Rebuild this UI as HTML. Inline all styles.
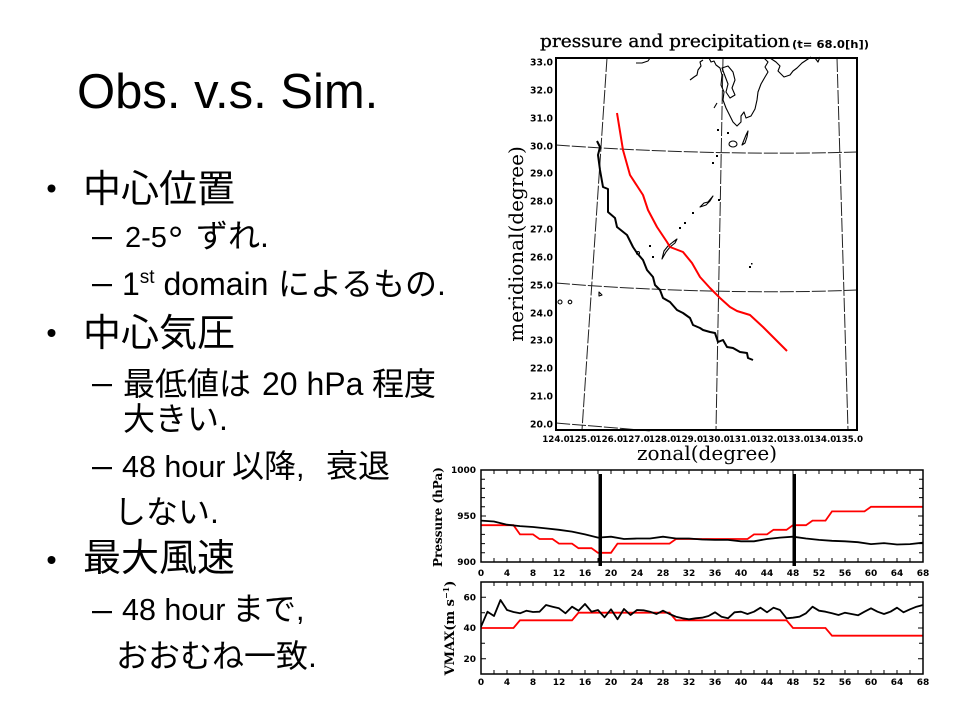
<!DOCTYPE html>
<html>
<head>
<meta charset="utf-8">
<style>
html,body{margin:0;padding:0;background:#fff;}
svg{display:block;}
.t{font-family:"Liberation Sans","Noto Sans CJK JP",sans-serif;fill:#000;}
.j{font-family:"Noto Sans CJK JP","Liberation Sans",sans-serif;}
.tk{font-family:"DejaVu Sans",sans-serif;font-weight:bold;fill:#000;}
.sf{font-family:"DejaVu Serif",serif;fill:#000;}
</style>
</head>
<body>
<svg width="960" height="720" viewBox="0 0 960 720" xmlns="http://www.w3.org/2000/svg">
<rect width="960" height="720" fill="#fff"/>

<!-- Slide title -->
<text class="t" x="77" y="108" font-size="49">Obs. v.s. Sim.</text>

<!-- bullets -->
<circle cx="51.5" cy="188.5" r="4" fill="#000"/>
<circle cx="51.5" cy="333" r="4" fill="#000"/>
<circle cx="51.5" cy="560" r="4" fill="#000"/>
<!-- dashes -->
<rect x="92" y="237" width="20" height="2.2" fill="#000"/>
<rect x="92" y="284" width="20" height="2.2" fill="#000"/>
<rect x="92" y="384" width="20" height="2.2" fill="#000"/>
<rect x="92" y="467" width="20" height="2.2" fill="#000"/>
<rect x="92" y="611" width="20" height="2.2" fill="#000"/>

<text class="t" x="83" y="202" font-size="38"><tspan class="j">中心位置</tspan></text>
<text class="t" x="125" y="247" font-size="29">2-5<tspan x="168" font-size="38" dy="6">°</tspan><tspan class="j" x="196" dy="-6" font-size="32">ずれ</tspan><tspan font-size="32">.</tspan></text>
<text class="t" x="122" y="295" font-size="32">1<tspan font-size="19" dy="-12">st</tspan><tspan dy="12"> domain</tspan><tspan class="j" x="278">によるもの</tspan>.</text>
<text class="t" x="83" y="346" font-size="38"><tspan class="j">中心気圧</tspan></text>
<text class="t" x="123" y="395" font-size="32"><tspan class="j">最低値は</tspan><tspan x="262">20 hPa</tspan><tspan class="j" x="372">程度</tspan></text>
<text class="t" x="123" y="430" font-size="32"><tspan class="j">大きい</tspan>.</text>
<text class="t" x="122" y="477" font-size="30.5">48 hour<tspan class="j" x="232" font-size="32">以降</tspan>,<tspan class="j" x="326" font-size="32">衰退</tspan></text>
<text class="t" x="114" y="523" font-size="32"><tspan class="j">しない</tspan>.</text>
<text class="t" x="83" y="571" font-size="38"><tspan class="j">最大風速</tspan></text>
<text class="t" x="122" y="620" font-size="30.5">48 hour<tspan class="j" x="232" font-size="32">まで</tspan>,</text>
<text class="t" x="116" y="667" font-size="32"><tspan class="j">おおむね一致</tspan>.</text>

<!-- ================= MAP ================= -->
<text class="sf" x="540" y="47" font-size="18" stroke="#000" stroke-width="0.35" textLength="250" lengthAdjust="spacingAndGlyphs">pressure and precipitation</text>
<text class="tk" x="792" y="48" font-size="10.5" textLength="77" lengthAdjust="spacingAndGlyphs">(t= 68.0[h])</text>

<!-- grid lines -->
<g fill="none" stroke="#222" stroke-width="1" stroke-dasharray="14,2">
  <path d="M607 58 L582 430"/>
  <path d="M723 58 L716 430"/>
  <path d="M837 58 L848 430"/>
  <path d="M556 145 C650 152 760 155 857 152"/>
  <path d="M556 283 C650 291 770 294 857 290"/>
  <path d="M556 423 C590 426 620 428 650 431"/>
</g>

<!-- coastlines / islands -->
<g fill="none" stroke="#000" stroke-width="1.1" stroke-linejoin="round">
  <path d="M709 58 L711 62 L714 61 L716 65 L720 68 L722 75 L721 85 L724 92 L723 100 L726 108 L730 116 L733 122 L737 126 L741 122 L741 116 L744 112 L746 118 L751 116 L755 109 L757 100 L758 92 L761 84 L765 77 L768 72 L765 67 L768 62 L764 58"/>
  <path d="M722 68 L728 66 L733 72 L735 80 L732 88 L735 95 L730 98 L726 92 L728 84 L725 76 Z"/>
  <path d="M770 58 L776 62 L780 66 L778 71 L784 77 L790 75 L793 71 L797 68 L802 63 L808 59 L811 57"/>
  <path d="M815 58 L818 62 L820 57"/>
  <path d="M636 63 L642 63 L648 61 L650 58"/>
  <path d="M690 80 L694 77 L697 75 L698 70 L701 66 L700 62 L703 60"/>
  <path d="M714 108 L717 103"/>
  <path d="M742 145 L744 140 L746 135 L748 131 L747 137 L745 143 Z"/>
  <ellipse cx="733" cy="144" rx="4" ry="3"/>
  <path d="M700 207 L704 203 L708 202 L713 196 L710 201 L706 205 Z"/>
  <path d="M662 259 L666 252 L670 247 L675 243 L677 239 L673 242 L668 246 L664 251 Z"/>
  <circle cx="638" cy="253" r="1.5"/>
  <circle cx="560" cy="302" r="2"/>
  <circle cx="570" cy="302" r="1.8"/>
  <path d="M599 292 L602 295 L599 296 Z"/>
</g>
<g fill="#000">
  <rect x="717" y="129" width="2" height="2"/>
  <rect x="727" y="132" width="2" height="2"/>
  <rect x="716" y="155" width="2" height="2"/>
  <rect x="712" y="162" width="2" height="2"/>
  <rect x="718" y="199" width="2" height="2"/>
  <rect x="692" y="212" width="2" height="2"/>
  <rect x="684" y="222" width="2" height="2"/>
  <rect x="679" y="227" width="2" height="2"/>
  <rect x="649" y="245" width="2" height="2"/>
  <rect x="652" y="256" width="2" height="2"/>
  <rect x="749" y="266" width="2" height="2"/>
  <rect x="751" y="263" width="1.5" height="1.5"/>
</g>

<!-- obs (black) track -->
<polyline fill="none" stroke="#000" stroke-width="2" stroke-linejoin="round"
 points="597,141 600,147 598,155 600,170 603,187 608,189 608,212 615,218 617,227 627,235 633,247 637,253 643,260 647,270 653,277 655,285 660,290 663,298 670,302 677,310 683,313 690,318 693,325 700,328 703,330 710,332 715,333 718,342 723,340 727,347 733,348 740,352 747,353 748,358 753,360"/>
<!-- sim (red) track -->
<polyline fill="none" stroke="#f00" stroke-width="2" stroke-linejoin="round"
 points="617,113 623,150 630,175 643,195 648,210 657,227 667,242 670,247 683,252 692,263 700,277 710,288 720,298 730,307 737,311 750,315 763,327 773,337 787,351"/>

<!-- map frame -->
<rect x="556" y="58" width="301" height="372" fill="none" stroke="#000" stroke-width="2"/>

<!-- map y labels -->
<g class="tk" font-size="9.3" text-anchor="end">
  <text x="553" y="65.5">33.0</text>
  <text x="553" y="93.5">32.0</text>
  <text x="553" y="121.5">31.0</text>
  <text x="553" y="149.5">30.0</text>
  <text x="553" y="176.5">29.0</text>
  <text x="553" y="204.5">28.0</text>
  <text x="553" y="232.5">27.0</text>
  <text x="553" y="260.5">26.0</text>
  <text x="553" y="288.5">25.0</text>
  <text x="553" y="316.5">24.0</text>
  <text x="553" y="343.5">23.0</text>
  <text x="553" y="371.5">22.0</text>
  <text x="553" y="399.5">21.0</text>
  <text x="553" y="427.5">20.0</text>
</g>
<!-- map x labels -->
<g class="tk" font-size="8.7" text-anchor="middle">
  <text x="556" y="442">124.0</text>
  <text x="582.6" y="442">125.0</text>
  <text x="609.3" y="442">126.0</text>
  <text x="636" y="442">127.0</text>
  <text x="662.6" y="442">128.0</text>
  <text x="689.3" y="442">129.0</text>
  <text x="716" y="442">130.0</text>
  <text x="742.6" y="442">131.0</text>
  <text x="769.3" y="442">132.0</text>
  <text x="796" y="442">133.0</text>
  <text x="822.6" y="442">134.0</text>
  <text x="849.3" y="442">135.0</text>
</g>
<text class="sf" x="707" y="460" font-size="20" text-anchor="middle">zonal(degree)</text>
<text class="sf" font-size="20" text-anchor="middle" transform="translate(523,244) rotate(-90)">meridional(degree)</text>

<!-- ================= PRESSURE CHART ================= -->
<g stroke="#000" stroke-width="1">
  <path d="M494 562v-4M507 562v-4M520 562v-4M533 562v-4M546 562v-4M559 562v-4M572 562v-4M585 562v-4M598 562v-4M611 562v-4M624 562v-4M637 562v-4M650 562v-4M663 562v-4M676 562v-4M689 562v-4M702 562v-4M715 562v-4M728 562v-4M741 562v-4M754 562v-4M767 562v-4M780 562v-4M793 562v-4M806 562v-4M819 562v-4M832 562v-4M845 562v-4M858 562v-4M871 562v-4M884 562v-4M897 562v-4M910 562v-4"/>
  <path d="M494 470v4M507 470v4M520 470v4M533 470v4M546 470v4M559 470v4M572 470v4M585 470v4M598 470v4M611 470v4M624 470v4M637 470v4M650 470v4M663 470v4M676 470v4M689 470v4M702 470v4M715 470v4M728 470v4M741 470v4M754 470v4M767 470v4M780 470v4M793 470v4M806 470v4M819 470v4M832 470v4M845 470v4M858 470v4M871 470v4M884 470v4M897 470v4M910 470v4"/>
  <path d="M481 479.2h4M481 488.4h4M481 497.6h4M481 506.8h4M481 516h5M481 525.2h4M481 534.4h4M481 543.6h4M481 552.8h4"/>
  <path d="M923 479.2h-4M923 488.4h-4M923 497.6h-4M923 506.8h-4M923 516h-5M923 525.2h-4M923 534.4h-4M923 543.6h-4M923 552.8h-4"/>
</g>
<!-- red (sim) -->
<polyline fill="none" stroke="#f00" stroke-width="1.8"
 points="481,525.2 513.5,525.2 520,534.4 533,534.4 539.5,539 552.5,539 559,543.6 572,543.6 578.5,548.2 591.5,548.2 598,552.8 611,552.8 617.5,543.6 669.5,543.6 676,539 747.5,539 754,534.4 767,534.4 773.5,529.8 786.5,529.8 793,525.2 806,525.2 812.5,520.6 825.5,520.6 832,511.4 864.5,511.4 871,506.8 923,506.8"/>
<!-- black (obs) -->
<polyline fill="none" stroke="#000" stroke-width="1.8"
 points="481,520.6 494,521.5 507,524.7 520,526.1 533,527 546,528.4 559,529.8 572,531.6 585,534.4 598,537.6 611,536.7 624,539 637,538.5 650,538.5 663,536.7 676,538.5 689,538.5 702,539.5 715,539.9 728,539.9 741,541.3 754,541.3 767,539 780,537.6 793,536.7 806,538.5 819,539.9 832,540.8 845,541.3 858,542.2 871,544.1 884,543.1 897,544.5 910,544.1 923,542.7"/>
<!-- vertical thick lines -->
<rect x="598.5" y="474" width="3.5" height="92" fill="#000"/>
<rect x="792.5" y="474" width="3.5" height="92" fill="#000"/>
<rect x="481" y="470" width="442" height="92" fill="none" stroke="#000" stroke-width="1.5"/>

<g class="tk" font-size="9" text-anchor="end">
  <text x="476" y="473">1000</text>
  <text x="476" y="519">950</text>
  <text x="476" y="565">900</text>
</g>
<g class="tk" font-size="9" text-anchor="middle">
  <text x="481" y="576">0</text><text x="507" y="576">4</text><text x="533" y="576">8</text><text x="559" y="576">12</text><text x="585" y="576">16</text><text x="611" y="576">20</text><text x="637" y="576">24</text><text x="663" y="576">28</text><text x="689" y="576">32</text><text x="715" y="576">36</text><text x="741" y="576">40</text><text x="767" y="576">44</text><text x="793" y="576">48</text><text x="819" y="576">52</text><text x="845" y="576">56</text><text x="871" y="576">60</text><text x="897" y="576">64</text><text x="923" y="576">68</text>
</g>
<text class="sf" font-size="12" font-weight="bold" text-anchor="middle" transform="translate(442,517) rotate(-90)">Pressure (hPa)</text>

<!-- ================= VMAX CHART ================= -->
<g stroke="#000" stroke-width="1">
  <path d="M494 674v-4M507 674v-4M520 674v-4M533 674v-4M546 674v-4M559 674v-4M572 674v-4M585 674v-4M598 674v-4M611 674v-4M624 674v-4M637 674v-4M650 674v-4M663 674v-4M676 674v-4M689 674v-4M702 674v-4M715 674v-4M728 674v-4M741 674v-4M754 674v-4M767 674v-4M780 674v-4M793 674v-4M806 674v-4M819 674v-4M832 674v-4M845 674v-4M858 674v-4M871 674v-4M884 674v-4M897 674v-4M910 674v-4"/>
  <path d="M494 582v4M507 582v4M520 582v4M533 582v4M546 582v4M559 582v4M572 582v4M585 582v4M598 582v4M611 582v4M624 582v4M637 582v4M650 582v4M663 582v4M676 582v4M689 582v4M702 582v4M715 582v4M728 582v4M741 582v4M754 582v4M767 582v4M780 582v4M793 582v4M806 582v4M819 582v4M832 582v4M845 582v4M858 582v4M871 582v4M884 582v4M897 582v4M910 582v4"/>
  <path d="M481 597.3h5M481 612.7h4M481 628h5M481 643.3h4M481 658.7h5"/>
  <path d="M923 597.3h-5M923 612.7h-4M923 628h-5M923 643.3h-4M923 658.7h-5"/>
</g>
<polyline fill="none" stroke="#f00" stroke-width="1.8"
 points="481,628 513.5,628 520,620.3 572,620.3 578.5,612.7 669.5,612.7 676,620.3 786.5,620.3 793,628 825.5,628 832,635.7 923,635.7"/>
<polyline fill="none" stroke="#000" stroke-width="1.8" stroke-linejoin="round"
 points="481,626.7 487.5,611.7 494,616 500.5,600 507,610 513.5,612 520,613.3 526.5,610.7 533,612 539.5,611.7 546,605 552.5,606.7 559,608.3 565.5,613.3 572,606.7 578.5,610.7 585,604 591.5,611.7 598,610 604.5,617.3 611,609.3 617.5,619.3 624,609 630.5,615 637,610 643.5,610.3 650,611.7 656.5,614 663,610.7 669.5,614 676,616.7 682.5,618.3 689,619.3 695.5,618.3 702,617.7 708.5,616 715,612.3 721.5,616.7 728,618.3 734.5,612.3 741,611.7 747.5,614 754,611.7 760.5,607.7 767,612.3 773.5,607.7 780,610 786.5,618.3 793,617.7 799.5,616.7 806,613.3 812.5,606.7 819,610.7 825.5,611.7 832,613.3 838.5,615 845,612.7 851.5,614 858,615.3 864.5,611.7 871,608.3 877.5,611.7 884,614 890.5,611.7 897,607.7 903.5,612.3 910,609.3 916.5,606.7 923,605"/>
<rect x="481" y="582" width="442" height="92" fill="none" stroke="#000" stroke-width="1.5"/>

<g class="tk" font-size="9" text-anchor="end">
  <text x="476" y="600.5">60</text>
  <text x="476" y="631">40</text>
  <text x="476" y="662">20</text>
</g>
<g class="tk" font-size="9" text-anchor="middle">
  <text x="481" y="685">0</text><text x="507" y="685">4</text><text x="533" y="685">8</text><text x="559" y="685">12</text><text x="585" y="685">16</text><text x="611" y="685">20</text><text x="637" y="685">24</text><text x="663" y="685">28</text><text x="689" y="685">32</text><text x="715" y="685">36</text><text x="741" y="685">40</text><text x="767" y="685">44</text><text x="793" y="685">48</text><text x="819" y="685">52</text><text x="845" y="685">56</text><text x="871" y="685">60</text><text x="897" y="685">64</text><text x="923" y="685">68</text>
</g>
<text class="sf" font-size="13" font-weight="bold" text-anchor="middle" transform="translate(454,628) rotate(-90)">VMAX(m s<tspan font-size="8" dy="-5">−1</tspan><tspan dy="5">)</tspan></text>
</svg>
</body>
</html>
